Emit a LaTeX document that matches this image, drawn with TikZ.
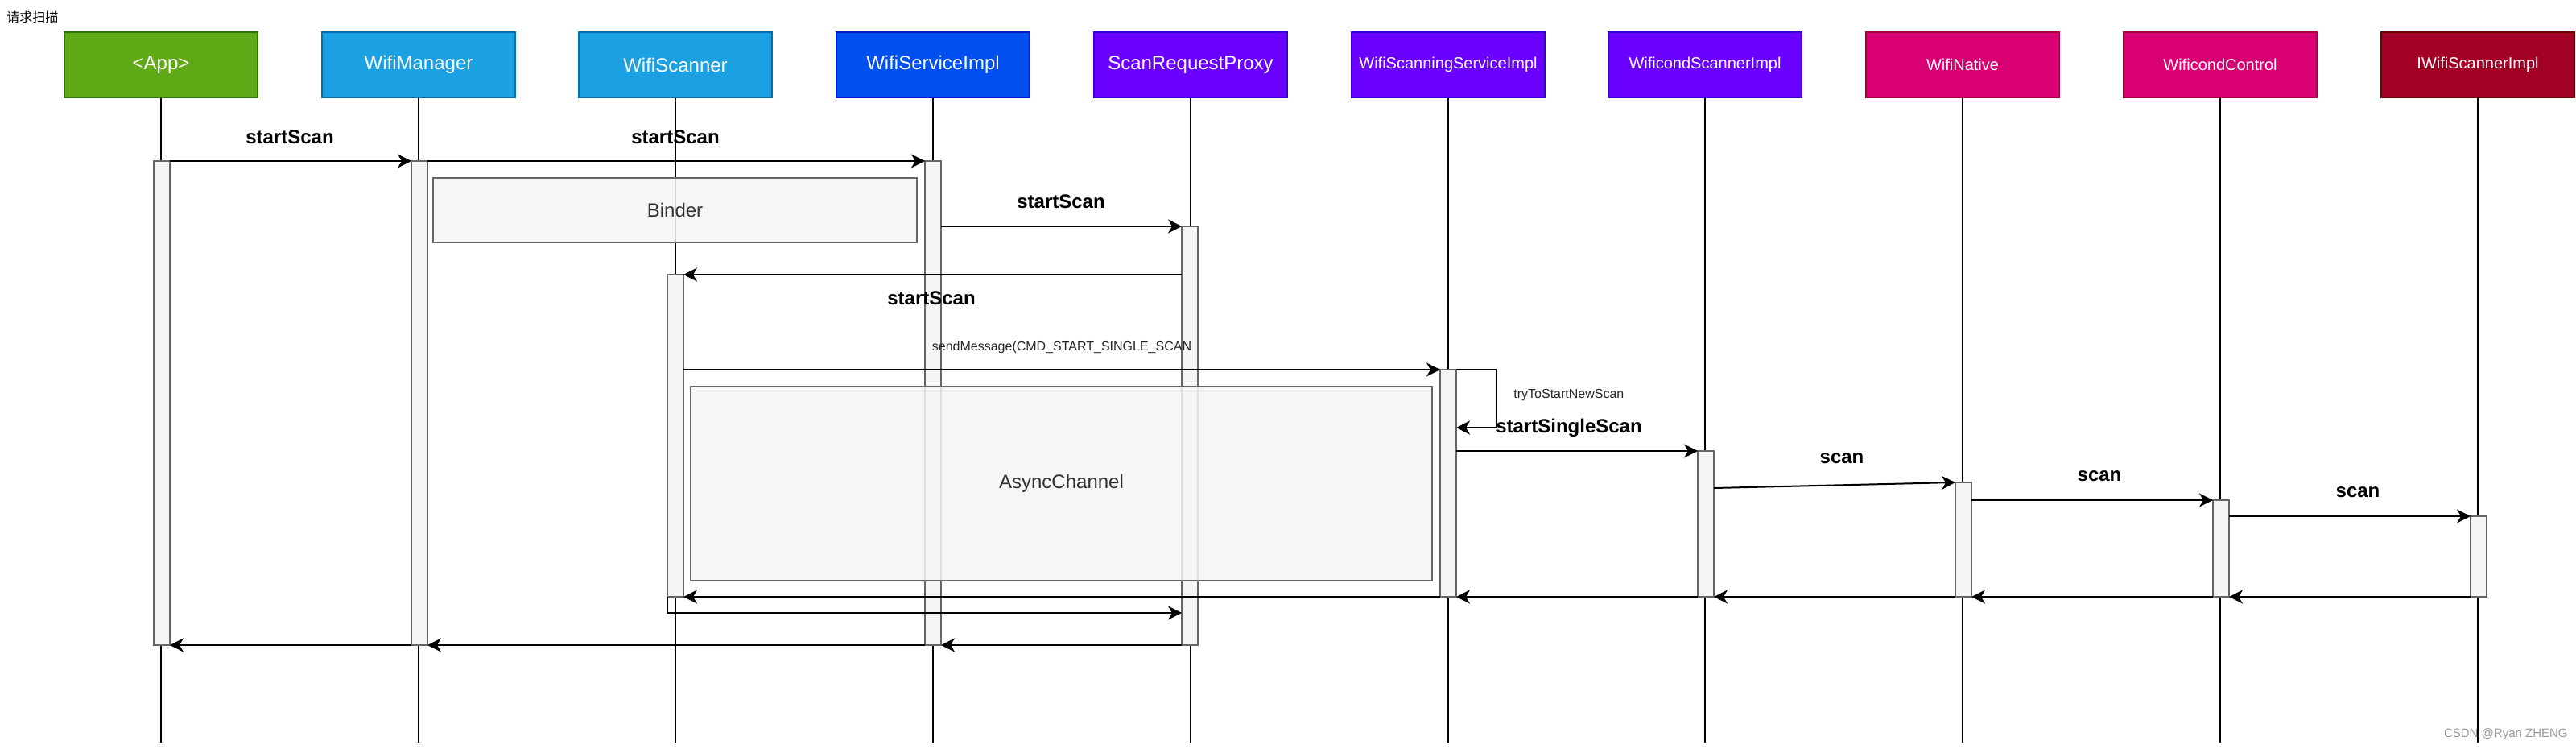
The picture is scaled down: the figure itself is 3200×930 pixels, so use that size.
\documentclass[tikz,border=0pt]{standalone}
\usepackage{fontspec}
\setmainfont{Liberation Sans}
\newfontfamily\cjk{Noto Sans CJK SC}
\usetikzlibrary{arrows.meta}
\definecolor{appF}{HTML}{60A917}\definecolor{appD}{HTML}{2D7600}
\definecolor{skyF}{HTML}{1BA1E2}\definecolor{skyD}{HTML}{006EAF}
\definecolor{bluF}{HTML}{0050EF}\definecolor{bluD}{HTML}{001DBC}
\definecolor{vioF}{HTML}{6A00FF}\definecolor{vioD}{HTML}{3700CC}
\definecolor{magF}{HTML}{D80073}\definecolor{magD}{HTML}{A50040}
\definecolor{crmF}{HTML}{A20025}\definecolor{crmD}{HTML}{6F0000}
\definecolor{boxF}{HTML}{F5F5F5}\definecolor{boxD}{HTML}{666666}
\definecolor{boxT}{HTML}{333333}
\begin{document}
\begin{tikzpicture}[x=0.5pt,y=-0.5pt,
  hdr/.style={draw, line width=1pt, minimum width=120pt, minimum height=40.5pt, inner sep=0pt, text=white, font=\fontsize{12}{14}\selectfont},
  hdrs/.style={hdr, font=\fontsize{10}{12}\selectfont},
  life/.style={draw=black, line width=0.6pt},
  actbar/.style={draw=boxD, fill=boxF, line width=1pt, minimum width=10pt, inner sep=0pt, outer sep=0pt, anchor=north},
  grpbox/.style={draw=boxD, fill=boxF, fill opacity=0.85, text opacity=1, text=boxT, line width=1pt, inner sep=0pt, font=\fontsize{12}{14}\selectfont},
  msg/.style={draw=black, line width=1pt, -{Stealth[length=8.5pt,width=8.5pt,inset=2.5pt]}},
  lbl/.style={font=\bfseries\fontsize{12}{14}\selectfont, inner sep=0pt},
  slbl/.style={font=\fontsize{8}{10}\selectfont, inner sep=0pt, text=black!85}
]
\fill[white] (0,0) rectangle (3200,930);
\useasboundingbox (0,0) rectangle (3200,930);

\node[anchor=west, font=\cjk\fontsize{8}{10}\selectfont, inner sep=0pt] (title) at (8,21) {请求扫描};

% headers
\node[hdr, fill=appF, draw=appD] (hApp) at (200,80.5) {<App>};
\node[hdr, fill=skyF, draw=skyD] (hMgr) at (520,80.5) {WifiManager};
\node[hdr, fill=skyF, draw=skyD] (hScn) at (839,80.5) {WifiScanner};
\node[hdr, fill=bluF, draw=bluD] (hSvc) at (1159,80.5) {WifiServiceImpl};
\node[hdr, fill=vioF, draw=vioD] (hPrx) at (1479,80.5) {ScanRequestProxy};
\node[hdrs, fill=vioF, draw=vioD] (hSss) at (1799,80.5) {WifiScanningServiceImpl};
\node[hdrs, fill=vioF, draw=vioD] (hWsc) at (2118,80.5) {WificondScannerImpl};
\node[hdrs, fill=magF, draw=magD] (hNat) at (2438,80.5) {WifiNative};
\node[hdrs, fill=magF, draw=magD] (hCtl) at (2758,80.5) {WificondControl};
\node[hdrs, fill=crmF, draw=crmD] (hIws) at (3078,80.5) {IWifiScannerImpl};

% lifelines
\foreach \h in {hApp,hMgr,hScn,hSvc,hPrx,hSss,hWsc,hNat,hCtl,hIws}
  \draw[life] (\h.south) -- ++(0,800);

% activation bars
\node[actbar, minimum height=300.5pt] (bApp) at (201,200) {};
\node[actbar, minimum height=300.5pt] (bMgr) at (521,200) {};
\node[actbar, minimum height=200pt] (bScn) at (839,341) {};
\node[actbar, minimum height=300.5pt] (bSvc) at (1159,200) {};
\node[actbar, minimum height=260pt] (bPrx) at (1478,281) {};
\node[actbar, minimum height=141pt] (bSss) at (1799,459) {};
\node[actbar, minimum height=90.5pt] (bWsc) at (2119,560) {};
\node[actbar, minimum height=71pt] (bNat) at (2439,599) {};
\node[actbar, minimum height=60pt] (bCtl) at (2759,621) {};
\node[actbar, minimum height=50pt] (bIws) at (3079,641) {};

% group boxes
\node[grpbox, minimum width=300.5pt, minimum height=40pt] (binder) at (838.5,261) {Binder};
\node[grpbox, minimum width=460.5pt, minimum height=120.5pt] (async) at (1318.5,600.5) {AsyncChannel};

% calls
\draw[msg] (bApp.north east) -- (bMgr.north west);
\node[lbl] (l1) at (360,170) {startScan};
\draw[msg] (bMgr.north east) -- (bSvc.north west);
\node[lbl] (l2) at (839,170) {startScan};
\draw[msg] (bSvc.east |- bPrx.north west) -- (bPrx.north west);
\node[lbl] (l3) at (1318,250) {startScan};
\draw[msg] (bPrx.west |- bScn.north east) -- (bScn.north east);
\node[lbl] (l4) at (1157,370) {startScan};
\draw[msg] (bScn.east |- bSss.north west) -- (bSss.north west);
\node[slbl] (l5) at (1319,431) {sendMessage(CMD\_START\_SINGLE\_SCAN};

\coordinate (selfEnd) at (1809,531);
\draw[msg, line width=0.6pt] (bSss.north east) -- ++(50,0) |- (selfEnd);
\node[slbl, anchor=west] (l6) at (1880,491) {tryToStartNewScan};
\node[lbl] (l7) at (1949,531) {startSingleScan};
\draw[msg] (bSss.east |- bWsc.north west) -- (bWsc.north west);

\coordinate (scanStart) at (2129,606);
\draw[msg] (scanStart) -- (bNat.north west);
\node[lbl] (l8) at (2288,569) {scan};
\draw[msg] (bNat.east |- bCtl.north west) -- (bCtl.north west);
\node[lbl] (l9) at (2608,591) {scan};
\draw[msg] (bCtl.east |- bIws.north west) -- (bIws.north west);
\node[lbl] (l10) at (2929,611) {scan};

% returns
\draw[msg] (bIws.south west) -- (bCtl.south east);
\draw[msg] (bCtl.south west) -- (bNat.south east);
\draw[msg] (bNat.south west) -- (bWsc.south east);
\draw[msg] (bWsc.south west) -- (bSss.south east);
\draw[msg] (bSss.south west) -- (bScn.south east);
\draw[msg] (bScn.south west) -- ++(0,20) coordinate (kk) -- (kk -| bPrx.west);
\draw[msg] (bPrx.south west) -- (bSvc.south east);
\draw[msg] (bSvc.south west) -- (bMgr.south east);
\draw[msg] (bMgr.south west) -- (bApp.south east);

\node[anchor=east, text=black!40, font=\fontsize{7.5}{9}\selectfont, inner sep=0pt] (wm) at (3190,912) {CSDN @Ryan ZHENG};
\end{tikzpicture}
\end{document}
